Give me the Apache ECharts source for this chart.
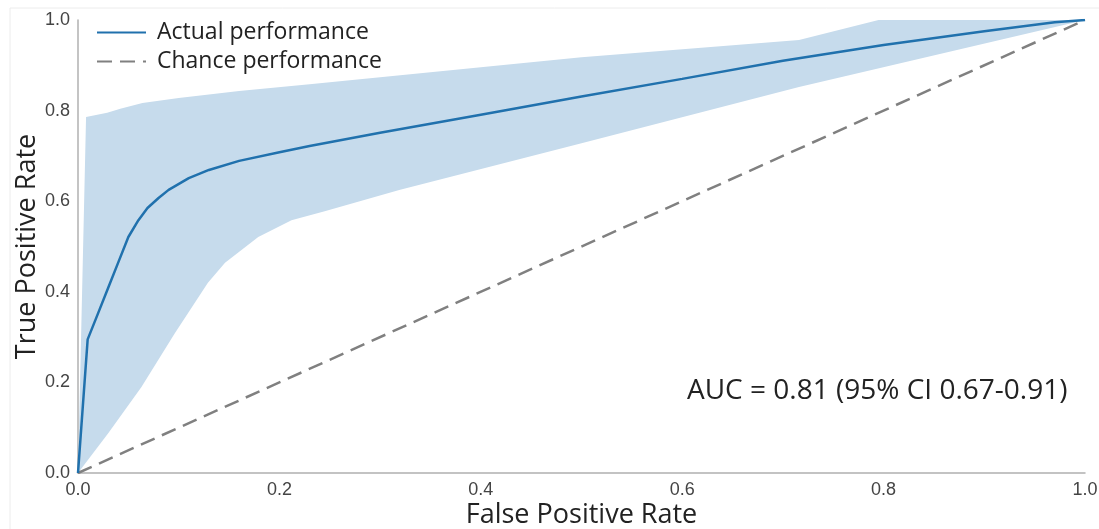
<!DOCTYPE html>
<html>
<head>
<meta charset="utf-8">
<script src="https://cdn.jsdelivr.net/npm/echarts@6/dist/echarts.min.js"></script>
<style>
html,body{margin:0;padding:0;background:#fff;}
#chart{width:1099px;height:529px;}
</style>
</head>
<body>
<div id="chart"></div>
<script>
// ROC curve (Actual performance)
const rocFPR = [0, 0.0096, 0.02, 0.03, 0.04, 0.05, 0.06, 0.069, 0.08, 0.09, 0.11, 0.13, 0.16, 0.2, 0.23, 0.3, 0.4, 0.5, 0.6, 0.7, 0.8, 0.9, 0.97, 1.0];
const rocTPR = [0, 0.295, 0.353, 0.409, 0.465, 0.521, 0.558, 0.585, 0.607, 0.625, 0.651, 0.669, 0.689, 0.708, 0.722, 0.751, 0.791, 0.831, 0.870, 0.910, 0.945, 0.975, 0.995, 1.0];
// 95% CI band
const upperFPR = [0, 0.008, 0.029, 0.042, 0.064, 0.1, 0.16, 0.23, 0.32, 0.5, 0.716, 0.795, 1.0];
const upperTPR = [0, 0.786, 0.795, 0.804, 0.817, 0.828, 0.843, 0.858, 0.878, 0.918, 0.956, 1.0, 1.0];
const lowerFPR = [0, 0.03, 0.063, 0.096, 0.129, 0.146, 0.179, 0.212, 0.245, 0.319, 0.5, 0.716, 1.0];
const lowerTPR = [0, 0.088, 0.19, 0.308, 0.42, 0.464, 0.521, 0.558, 0.578, 0.625, 0.728, 0.852, 1.0];
// Chance line
const chanceFPR = [0, 1];
const chanceTPR = [0, 1];
// Axis ticks
const tickValues = [0, 0.2, 0.4, 0.6, 0.8, 1.0];
const aucText = 'AUC = 0.81 (95% CI 0.67-0.91)';

const chart = echarts.init(document.getElementById('chart'));
const zip = (a, b) => a.map((v, i) => [v, b[i]]);

const axisCommon = {
  type: 'value', min: 0, max: 1, interval: 0.2,
  splitLine: {show: false},
  axisTick: {show: false},
  axisLine: {show: true, lineStyle: {color: '#b0b0b0', width: 1.5}},
  axisLabel: {
    fontFamily: 'Liberation Sans', fontSize: 18, color: '#444',
    formatter: v => tickValues.includes(+v.toFixed(1)) ? v.toFixed(1) : ''
  },
  nameLocation: 'middle',
  nameMoveOverlap: false,
  nameTextStyle: {fontFamily: 'Open Sans', fontSize: 27, color: '#222'}
};

chart.setOption({
  animation: false,
  backgroundColor: '#fff',
  grid: {left: 78, right: 14, top: 20, bottom: 56, containLabel: false, outerBoundsMode: 'none'},
  xAxis: Object.assign({}, axisCommon, {
    name: 'False Positive Rate', nameGap: 29,
    axisLabel: Object.assign({}, axisCommon.axisLabel, {margin: 8})
  }),
  yAxis: Object.assign({}, axisCommon, {
    name: 'True Positive Rate', nameGap: 37,
    axisLabel: Object.assign({}, axisCommon.axisLabel, {margin: 8})
  }),
  legend: {
    data: ['Actual performance', 'Chance performance'],
    orient: 'vertical', left: 91, top: 16, itemGap: 6,
    itemWidth: 49, itemHeight: 14,
    itemStyle: {opacity: 0},
    textStyle: {fontFamily: 'Open Sans', fontSize: 23, color: '#222', padding: [0, 0, 0, 6]}
  },
  graphic: [
    {type: 'line', shape: {x1: 10, y1: 8, x2: 1099, y2: 8}, style: {stroke: '#ececec', lineWidth: 1}, silent: true},
    {type: 'line', shape: {x1: 10, y1: 8, x2: 10, y2: 529}, style: {stroke: '#ececec', lineWidth: 1}, silent: true},
    {type: 'text', x: 687, y: 391,
     style: {text: aucText, font: '28px "Open Sans"', fill: '#222', verticalAlign: 'middle'}}
  ],
  series: [
    {
      type: 'custom', name: 'CI', silent: true, z: 1,
      data: [0],
      renderItem: function (params, api) {
        const pts = [];
        for (let i = 0; i < upperFPR.length; i++) pts.push(api.coord([upperFPR[i], upperTPR[i]]));
        for (let i = lowerFPR.length - 1; i >= 0; i--) pts.push(api.coord([lowerFPR[i], lowerTPR[i]]));
        return {type: 'polygon', shape: {points: pts, smooth: 0}, style: {fill: '#c6dbec', stroke: 'none'}};
      }
    },
    {
      type: 'line', name: 'Chance performance', z: 2,
      data: zip(chanceFPR, chanceTPR),
      symbol: 'none', showSymbol: false,
      lineStyle: {color: '#808080', width: 2.5, type: [15, 8]},
      itemStyle: {color: '#808080'}
    },
    {
      type: 'line', name: 'Actual performance', z: 3,
      data: zip(rocFPR, rocTPR),
      symbol: 'none', showSymbol: false, smooth: false,
      lineStyle: {color: '#2071ad', width: 2.5},
      itemStyle: {color: '#2071ad'}
    }
  ]
});
</script>
</body>
</html>
